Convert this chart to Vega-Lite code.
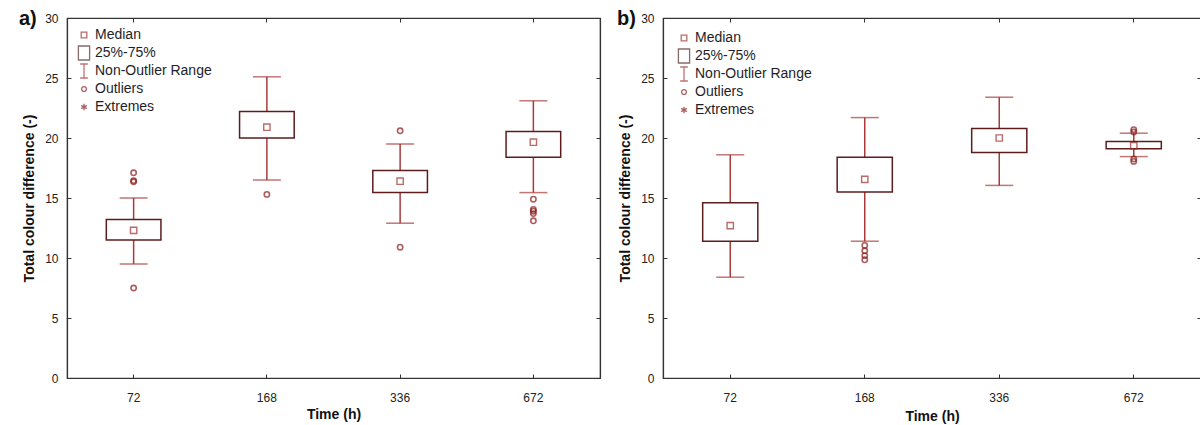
{
  "$schema": "https://vega.github.io/schema/vega-lite/v6.json",
  "background": "white",
  "padding": {"left": 18, "top": 8, "right": 0, "bottom": 0},
  "spacing": 14,
  "datasets": {
    "a_box": [
      {"time": "72", "lo": 9.5, "q1": 11.5, "med": 12.3, "q3": 13.2, "hi": 15.0},
      {"time": "168", "lo": 16.5, "q1": 20.0, "med": 20.9, "q3": 22.2, "hi": 25.1},
      {"time": "336", "lo": 12.9, "q1": 15.45, "med": 16.4, "q3": 17.3, "hi": 19.5},
      {"time": "672", "lo": 15.45, "q1": 18.4, "med": 19.65, "q3": 20.55, "hi": 23.1}
    ],
    "a_out": [
      {"time": "72", "v": 17.1}, {"time": "72", "v": 16.45}, {"time": "72", "v": 16.35}, {"time": "72", "v": 7.5},
      {"time": "168", "v": 15.3},
      {"time": "336", "v": 20.6}, {"time": "336", "v": 10.9},
      {"time": "672", "v": 14.9}, {"time": "672", "v": 14.05}, {"time": "672", "v": 13.9}, {"time": "672", "v": 13.7}, {"time": "672", "v": 13.1}
    ],
    "b_box": [
      {"time": "72", "lo": 8.4, "q1": 11.4, "med": 12.7, "q3": 14.6, "hi": 18.6},
      {"time": "168", "lo": 11.4, "q1": 15.5, "med": 16.55, "q3": 18.4, "hi": 21.7},
      {"time": "336", "lo": 16.05, "q1": 18.8, "med": 20.0, "q3": 20.8, "hi": 23.4},
      {"time": "672", "lo": 18.45, "q1": 19.1, "med": 19.35, "q3": 19.7, "hi": 20.4}
    ],
    "b_out": [
      {"time": "168", "v": 11.05}, {"time": "168", "v": 10.6}, {"time": "168", "v": 10.2}, {"time": "168", "v": 9.85},
      {"time": "672", "v": 20.7}, {"time": "672", "v": 20.5}, {"time": "672", "v": 18.25}, {"time": "672", "v": 18.05}
    ],
    "legend": [
      {"item": "Median"}, {"item": "25%-75%"}, {"item": "Non-Outlier Range"}, {"item": "Outliers"}, {"item": "Extremes"}
    ]
  },
  "resolve": {"scale": {"color": "independent", "shape": "independent"}, "legend": {"color": "independent", "shape": "independent"}},
  "hconcat": [
    {
      "width": 533,
      "height": 360,
      "title": {"text": "a)", "anchor": "start", "frame": "group", "dx": -48, "baseline": "middle", "offset": -27, "fontSize": 20, "fontWeight": "bold", "color": "#111"},
      "resolve": {"axis": {"x": "independent", "y": "independent"}},
      "layer": [
        {
          "data": {"name": "a_box"},
          "mark": {"type": "rule", "color": "#a83a3a", "strokeWidth": 1.5},
          "encoding": {
            "x": {"field": "time", "type": "nominal", "sort": ["72", "168", "336", "672"], "scale": {"paddingInner": 0, "paddingOuter": 0}, "axis": {"orient": "bottom", "title": "Time (h)", "labelAngle": 0, "bandPosition": 0.5, "labelPadding": 18, "titlePadding": 4}},
            "y": {"field": "lo", "type": "quantitative", "scale": {"domain": [0, 30], "nice": false}, "axis": {"orient": "left", "values": [0, 5, 10, 15, 20, 25, 30], "title": "Total colour difference (-)", "titlePadding": 8, "labelPadding": 13}},
            "y2": {"field": "hi"}
          }
        },
        {
          "data": {"name": "a_box"},
          "mark": {"type": "tick", "color": "#a83a3a", "thickness": 1.5, "size": 28},
          "encoding": {
            "x": {"field": "time", "type": "nominal", "sort": ["72", "168", "336", "672"], "axis": {"orient": "top", "labels": false, "title": null, "bandPosition": 0.5, "minExtent": 0, "maxExtent": 0, "titlePadding": 0}},
            "y": {"field": "hi", "type": "quantitative", "axis": {"orient": "right", "labels": false, "title": null, "values": [0, 5, 10, 15, 20, 25, 30], "minExtent": 0, "maxExtent": 0, "titlePadding": 0}}
          }
        },
        {
          "data": {"name": "a_box"},
          "mark": {"type": "tick", "color": "#a83a3a", "thickness": 1.5, "size": 28},
          "encoding": {
            "x": {"field": "time", "type": "nominal", "sort": ["72", "168", "336", "672"], "axis": null},
            "y": {"field": "lo", "type": "quantitative", "axis": null}
          }
        },
        {
          "data": {"name": "a_box"},
          "mark": {"type": "bar", "fill": "white", "stroke": "#5c1c1c", "strokeWidth": 1.5, "width": {"band": 0.41}},
          "encoding": {
            "x": {"field": "time", "type": "nominal", "sort": ["72", "168", "336", "672"], "axis": null},
            "y": {"field": "q1", "type": "quantitative", "axis": null},
            "y2": {"field": "q3"}
          }
        },
        {
          "data": {"name": "a_box"},
          "mark": {"type": "point", "shape": "square", "filled": false, "color": "#9b2d2d", "size": 40, "strokeWidth": 1.4},
          "encoding": {
            "x": {"field": "time", "type": "nominal", "sort": ["72", "168", "336", "672"], "axis": null},
            "y": {"field": "med", "type": "quantitative", "axis": null}
          }
        },
        {
          "data": {"name": "a_out"},
          "mark": {"type": "point", "shape": "circle", "filled": false, "color": "#8b1a1a", "size": 28, "strokeWidth": 1.6},
          "encoding": {
            "x": {"field": "time", "type": "nominal", "sort": ["72", "168", "336", "672"], "axis": null},
            "y": {"field": "v", "type": "quantitative", "axis": null}
          }
        },
        {
          "data": {"name": "legend"},
          "transform": [{"filter": "datum.item == 'none'"}],
          "mark": {"type": "point", "filled": false, "strokeWidth": 1.3},
          "encoding": {
            "x": {"value": 0},
            "y": {"value": 0},
            "shape": {"field": "item", "type": "nominal",
              "scale": {"domain": ["Median", "25%-75%", "Non-Outlier Range", "Outliers", "Extremes"],
                "range": ["M-0.4,-0.4H0.4V0.4H-0.4Z", "M-0.8,-1H0.8V1H-0.8Z", "M-0.55,-1H0.55M0,-1V1M-0.55,1H0.55", "M0.34,0A0.34,0.34,0,1,1,-0.34,0A0.34,0.34,0,1,1,0.34,0", "M0,-0.45V0.45M-0.4,-0.23L0.4,0.23M-0.4,0.23L0.4,-0.23"]},
              "legend": {"orient": "none", "legendX": 9, "legendY": 9, "title": null, "symbolSize": 196, "labelFontSize": 14, "labelColor": "#1e1e2a", "labelOffset": 3, "rowPadding": -4.7, "gridAlign": "all", "symbolStrokeWidth": 1.3, "symbolFillColor": "transparent"}},
            "color": {"field": "item", "type": "nominal",
              "scale": {"domain": ["Median", "25%-75%", "Non-Outlier Range", "Outliers", "Extremes"], "range": ["#9b2d2d", "#5a2e2e", "#a83a3a", "#8b1a1a", "#8b1a1a"]},
              "legend": {"orient": "none", "legendX": 9, "legendY": 9, "title": null, "symbolSize": 196, "labelFontSize": 14, "labelColor": "#1e1e2a", "labelOffset": 3, "rowPadding": -4.7, "gridAlign": "all", "symbolStrokeWidth": 1.3, "symbolFillColor": "transparent"}}
          }
        }
      ]
    },
    {
      "width": 538,
      "height": 360,
      "title": {"text": "b)", "anchor": "start", "frame": "group", "dx": -46, "baseline": "middle", "offset": -27, "fontSize": 20, "fontWeight": "bold", "color": "#111"},
      "resolve": {"axis": {"x": "independent", "y": "independent"}},
      "layer": [
        {
          "data": {"name": "b_box"},
          "mark": {"type": "rule", "color": "#a83a3a", "strokeWidth": 1.5},
          "encoding": {
            "x": {"field": "time", "type": "nominal", "sort": ["72", "168", "336", "672"], "scale": {"paddingInner": 0, "paddingOuter": 0}, "axis": {"orient": "bottom", "title": "Time (h)", "labelAngle": 0, "bandPosition": 0.5, "labelPadding": 18, "titlePadding": 6}},
            "y": {"field": "lo", "type": "quantitative", "scale": {"domain": [0, 30], "nice": false}, "axis": {"orient": "left", "values": [0, 5, 10, 15, 20, 25, 30], "title": "Total colour difference (-)", "titlePadding": 8, "labelPadding": 13}},
            "y2": {"field": "hi"}
          }
        },
        {
          "data": {"name": "b_box"},
          "mark": {"type": "tick", "color": "#a83a3a", "thickness": 1.5, "size": 28},
          "encoding": {
            "x": {"field": "time", "type": "nominal", "sort": ["72", "168", "336", "672"], "axis": {"orient": "top", "labels": false, "title": null, "bandPosition": 0.5, "minExtent": 0, "maxExtent": 0, "titlePadding": 0}},
            "y": {"field": "hi", "type": "quantitative", "axis": {"orient": "right", "labels": false, "title": null, "values": [0, 5, 10, 15, 20, 25, 30], "minExtent": 0, "maxExtent": 0, "titlePadding": 0}}
          }
        },
        {
          "data": {"name": "b_box"},
          "mark": {"type": "tick", "color": "#a83a3a", "thickness": 1.5, "size": 28},
          "encoding": {
            "x": {"field": "time", "type": "nominal", "sort": ["72", "168", "336", "672"], "axis": null},
            "y": {"field": "lo", "type": "quantitative", "axis": null}
          }
        },
        {
          "data": {"name": "b_box"},
          "mark": {"type": "bar", "fill": "white", "stroke": "#5c1c1c", "strokeWidth": 1.5, "width": {"band": 0.41}},
          "encoding": {
            "x": {"field": "time", "type": "nominal", "sort": ["72", "168", "336", "672"], "axis": null},
            "y": {"field": "q1", "type": "quantitative", "axis": null},
            "y2": {"field": "q3"}
          }
        },
        {
          "data": {"name": "b_box"},
          "mark": {"type": "point", "shape": "square", "filled": false, "color": "#9b2d2d", "size": 40, "strokeWidth": 1.4},
          "encoding": {
            "x": {"field": "time", "type": "nominal", "sort": ["72", "168", "336", "672"], "axis": null},
            "y": {"field": "med", "type": "quantitative", "axis": null}
          }
        },
        {
          "data": {"name": "b_out"},
          "mark": {"type": "point", "shape": "circle", "filled": false, "color": "#8b1a1a", "size": 28, "strokeWidth": 1.6},
          "encoding": {
            "x": {"field": "time", "type": "nominal", "sort": ["72", "168", "336", "672"], "axis": null},
            "y": {"field": "v", "type": "quantitative", "axis": null}
          }
        },
        {
          "data": {"name": "legend"},
          "transform": [{"filter": "datum.item == 'none'"}],
          "mark": {"type": "point", "filled": false, "strokeWidth": 1.3},
          "encoding": {
            "x": {"value": 0},
            "y": {"value": 0},
            "shape": {"field": "item", "type": "nominal",
              "scale": {"domain": ["Median", "25%-75%", "Non-Outlier Range", "Outliers", "Extremes"],
                "range": ["M-0.4,-0.4H0.4V0.4H-0.4Z", "M-0.8,-1H0.8V1H-0.8Z", "M-0.55,-1H0.55M0,-1V1M-0.55,1H0.55", "M0.34,0A0.34,0.34,0,1,1,-0.34,0A0.34,0.34,0,1,1,0.34,0", "M0,-0.45V0.45M-0.4,-0.23L0.4,0.23M-0.4,0.23L0.4,-0.23"]},
              "legend": {"orient": "none", "legendX": 13, "legendY": 12, "title": null, "symbolSize": 196, "labelFontSize": 14, "labelColor": "#1e1e2a", "labelOffset": 3, "rowPadding": -4.7, "gridAlign": "all", "symbolStrokeWidth": 1.3, "symbolFillColor": "transparent"}},
            "color": {"field": "item", "type": "nominal",
              "scale": {"domain": ["Median", "25%-75%", "Non-Outlier Range", "Outliers", "Extremes"], "range": ["#9b2d2d", "#5a2e2e", "#a83a3a", "#8b1a1a", "#8b1a1a"]},
              "legend": {"orient": "none", "legendX": 13, "legendY": 12, "title": null, "symbolSize": 196, "labelFontSize": 14, "labelColor": "#1e1e2a", "labelOffset": 3, "rowPadding": -4.7, "gridAlign": "all", "symbolStrokeWidth": 1.3, "symbolFillColor": "transparent"}}
          }
        }
      ]
    }
  ],
  "config": {
    "font": "Liberation Sans",
    "view": {"stroke": "#444", "strokeWidth": 1.2},
    "axis": {"grid": false, "domainColor": "#333", "domainWidth": 1.2, "tickColor": "#333", "tickSize": -4, "labelColor": "#222", "labelFontSize": 12, "labelFont": "Liberation Sans", "titleFont": "Liberation Sans", "titleFontSize": 14, "titleFontWeight": "bold", "titleColor": "#111", "labelPadding": 8},
    "title": {"font": "Liberation Sans"}
  }
}
